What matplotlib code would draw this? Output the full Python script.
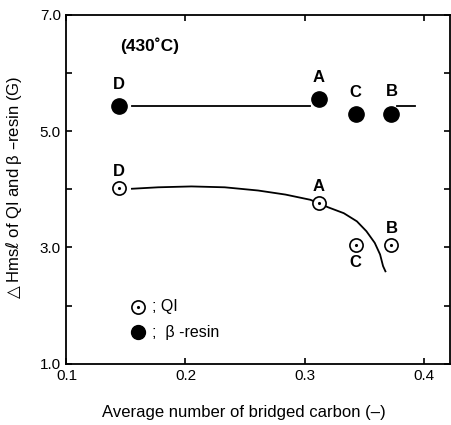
import matplotlib
matplotlib.use("Agg")
import matplotlib.pyplot as plt

plt.rcParams["font.family"] = ["Liberation Sans", "DejaVu Sans"]

# ------------------------- données ---------------------------------------------
samples = ["D", "A", "C", "B"]
bridged = [0.144, 0.312, 0.343, 0.373]
qi_hms = [4.03, 3.77, 3.05, 3.05]
beta_hms = [5.44, 5.56, 5.30, 5.30]

# courbe tracée à la main sur l'original (QI)
curve_x = [0.155, 0.177, 0.205, 0.233, 0.261, 0.284, 0.305, 0.320,
           0.333, 0.344, 0.352, 0.359, 0.3635, 0.366, 0.368]
curve_y = [4.01, 4.035, 4.05, 4.035, 3.98, 3.91, 3.82, 3.69,
           3.59, 3.45, 3.28, 3.08, 2.88, 2.68, 2.59]

# droites horizontales (beta-resin)
line_x = [0.155, 0.305]
line_y = [5.44, 5.44]
stub_x = [0.378, 0.393]
stub_y = [5.44, 5.44]

# position des lettres
beta_lbl_y = [5.80, 5.92, 5.66, 5.68]
qi_lbl_y = [4.31, 4.05, 2.74, 3.33]

fig = plt.figure(figsize=(4.52, 4.25), dpi=100)
ax = fig.add_axes([0.147, 0.144, 0.849, 0.821])

ax.plot(curve_x, curve_y, color="black", lw=1.3, solid_joinstyle="round")
ax.plot(line_x, line_y, color="black", lw=1.3)
ax.plot(stub_x, stub_y, color="black", lw=1.3)

ax.plot(bridged, beta_hms, "o", color="black", ms=11, ls="none")
ax.plot(bridged, qi_hms, "o", mfc="white", mec="black", mew=1.2, ms=9.5, ls="none")
ax.plot(bridged, qi_hms, ".", color="black", ms=2.5, ls="none")

for s, x, y in zip(samples, bridged, beta_lbl_y):
    ax.text(x, y, s, ha="center", va="center", fontsize=12, fontweight="bold")
for s, x, y in zip(samples, bridged, qi_lbl_y):
    ax.text(x, y, s, ha="center", va="center", fontsize=12, fontweight="bold")

ax.text(0.145, 6.47, "(430\u02daC)", ha="left", va="center", fontsize=12.5, fontweight="bold")

# légende faite à la main
ax.plot([0.16], [1.98], "o", mfc="white", mec="black", mew=1.2, ms=9.5)
ax.plot([0.16], [1.98], ".", color="black", ms=2.5)
ax.text(0.172, 1.98, "; QI", ha="left", va="center", fontsize=11.5)
ax.plot([0.16], [1.54], "o", color="black", ms=10)
ax.text(0.172, 1.54, ";  \u03b2 -resin", ha="left", va="center", fontsize=11.5)

ax.set_xlim(0.1, 0.4224)
ax.set_ylim(1.0, 7.0)
ax.set_xticks([0.1, 0.2, 0.3, 0.4])
ax.set_xticklabels(["0.1", "0.2", "0.3", "0.4"])
ax.set_yticks([1, 2, 3, 4, 5, 6, 7])
ax.set_yticklabels(["1.0", "", "3.0", "", "5.0", "", "7.0"])
ax.tick_params(direction="in", length=4, width=1.2, labelsize=11,
               top=True, right=True, pad=4)
for sp in ax.spines.values():
    sp.set_linewidth(1.3)

fig.text(244 / 452, 1 - 413 / 425, "Average number of bridged carbon (\u2013)",
         ha="center", va="center", fontsize=12)
fig.text(14 / 452, 1 - 189 / 425, "$\\triangle$Hms$\\ell$ of QI and \u03b2 \u2013resin (G)",
         ha="center", va="center", fontsize=12, rotation=90)

fig.savefig("out.png", dpi=100)
